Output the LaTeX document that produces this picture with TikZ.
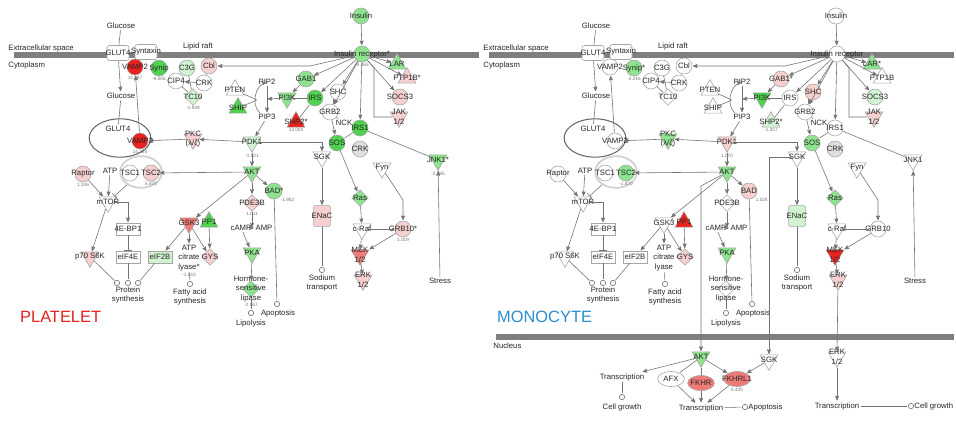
\documentclass[tikz,border=0pt]{standalone}
\usepackage{fontspec}
\setmainfont{Liberation Sans}
\usetikzlibrary{shapes.geometric,arrows,positioning}

\definecolor{upHi}{HTML}{E8231F}
\definecolor{upMid}{HTML}{EE7B78}
\definecolor{upLo}{HTML}{F6CFCF}
\definecolor{dnHi}{HTML}{4FD24F}
\definecolor{dnMid}{HTML}{8EE38E}
\definecolor{dnLo}{HTML}{D2F3D2}
\definecolor{barGray}{HTML}{7F7F7F}
\definecolor{plateRed}{HTML}{E4231E}
\definecolor{monoBlue}{HTML}{2B8FCF}

\tikzset{
  tone/.style={tone #1/.try},
  g/.style={label={[lab]center:#1}},
  lab/.style={font=\fontsize{6.6}{8}\selectfont,text=black!85,align=center,inner sep=0pt},
  val/.style={font=\fontsize{4}{4}\selectfont,text=black!55,inner sep=0.6pt},
  chem/.style={font=\fontsize{6.6}{8}\selectfont,text=black!85,align=center,inner sep=1pt},
  gene/.style={circle,draw=black!35,fill=white,inner sep=0pt,minimum size=0.48cm},
  kin/.style={regular polygon,regular polygon sides=3,shape border rotate=180,draw=black!35,fill=white,inner sep=0pt,minimum size=0.62cm},
  phos/.style={regular polygon,regular polygon sides=3,draw=black!35,fill=white,inner sep=0pt,minimum size=0.62cm},
  enz/.style={diamond,draw=black!35,fill=white,inner sep=0pt,minimum size=0.5cm},
  trl/.style={rectangle,draw=black!35,fill=white,inner sep=0pt,minimum width=0.72cm,minimum height=0.36cm},
  chan/.style={rectangle,rounded corners=1pt,draw=black!35,fill=white,inner sep=0pt,minimum width=0.5cm,minimum height=0.62cm},
  trf/.style={ellipse,draw=black!35,fill=white,inner sep=0pt,minimum width=0.8cm,minimum height=0.45cm},
  tport/.style={rectangle,rounded corners=2pt,draw=black!35,fill=white,inner sep=0pt,minimum width=0.66cm,minimum height=0.45cm},
  leaf/.style={circle,draw=black!55,fill=white,inner sep=0pt,minimum size=0.16cm},
  mem/.style={line width=0.17cm,draw=barGray},
}

%% one panel of the insulin pathway
\newcommand{\panelbody}{%
  \draw[mem] (14,55) -- (480,55);
  \node[chem,anchor=west] (ecs) at (7,48) {Extracellular space};
  \node[chem,anchor=west] (cyto) at (7,65) {Cytoplasm};
  \node[chem] (raft) at (198,47) {Lipid raft};
  %% glucose uptake
  \node[chem] (glcout) at (121,26) {Glucose};
  \node[tport,g=GLUT4] (glut4m) at (118,53) {};
  \node[tport,g=Syntaxin] (stx) at (146,52) {};
  \node[gene,tone=vampa,g=VAMP2] (vampa) at (135,67) {};
  \node[gene,tone=synip,g=Synip\stSyn] (synip) at (159,68) {};
  \node[chem] (glcin) at (121,96) {Glucose};
  \node[ellipse,draw=black!60,line width=0.9pt,minimum width=1.85cm,minimum height=1.15cm] (gloop) at (120,138) {};
  \node[chem] (glut4) at (118,129) {GLUT4};
  \node[gene,tone=vampb,g=VAMP2] (vampb) at (140,141) {};
  \node[gene,tone=c3g,g=C3G] (c3g) at (187,68) {};
  \node[gene,tone=cbl,g=Cbl] (cbl) at (209,66) {};
  \node[gene,g=CIP4] (cip4) at (176,81) {};
  \node[gene,g=CRK] (crka) at (204,83) {};
  \node[enz,tone=tc10,g=TC10] (tc10) at (193,97) {};
  \node[kin,tone=pkc,g={PKC\\(λ/ζ)}] (pkc) at (193,139) {};
  %% insulin receptor
  \node[gene,tone=ins,g=Insulin] (ins) at (361,16) {};
  \node[gene,tone=ir,g=Insulin receptor\stIR] (ir) at (362,54) {};
  \node[phos,tone=lar,g=LAR\stLAR] (lar) at (397,64) {};
  \node[phos,tone=ptp,g=PTP1B\stPTP] (ptp) at (407,78) {};
  \node[gene,tone=socs,g=SOCS3] (socs) at (400,97) {};
  \node[kin,tone=jak,g={JAK\\1/2}] (jak) at (399,117) {};
  \node[gene,tone=gab,g=GAB1\stGAB] (gab) at (306,79) {};
  \node[kin,tone=pi3k,g=PI3K] (pi3k) at (287,98) {};
  \node[gene,tone=irs,g=IRS] (irs) at (315,98) {};
  \node[gene,tone=shc,g=SHC] (shc) at (338,92) {};
  \node[gene,g=GRB2] (grb2) at (330,112) {};
  \node[chem] (nck) at (344,123) {NCK};
  \node[gene,tone=irsa,g=IRS1] (irsa) at (360,128) {};
  \node[phos,tone=shp,g=SHP2*] (shp) at (296,122) {};
  \node[phos,g=PTEN] (pten) at (235,90) {};
  \node[phos,tone=ship,g=SHIP] (ship) at (238,108) {};
  \node[chem] (pip2) at (267,82) {PIP2};
  \node[chem] (pip3) at (267,117) {PIP3};
  \coordinate (pj) at (257,100);
  \coordinate (pk) at (267,99);
  %% middle
  \node[kin,tone=pdk,g=PDK1] (pdk) at (252,142) {};
  \node[kin,g=SGK] (sgk) at (322,157) {};
  \node[gene,tone=sos,g=SOS] (sos) at (337,143) {};
  \node[gene,fill=black!12,g=CRK] (crkb) at (360,149) {};
  \node[kin,tone=jnk,g=JNK1\stJNK] (jnk) at (438,160) {};
  \node[kin,tone=akt,g=AKT] (akt) at (252,172) {};
  \node[gene,tone=bad,g=BAD\stBAD] (bad) at (274,191) {};
  \node[kin,g=Fyn] (fyn) at (382,168) {};
  \node[enz,tone=pde,g=PDE3B] (pde) at (252,203) {};
  \node[enz,tone=ras,g=Ras] (ras) at (360,198) {};
  \node[chan,tone=enac,g=ENaC] (enac) at (322,216) {};
  \node[chem] (camp) at (241,228) {cAMP};
  \node[chem] (amp) at (264,228) {AMP};
  \coordinate (cx) at (252,228);
  \node[kin,g=c-Raf] (craf) at (362,229) {};
  \node[gene,tone=grb,g=GRB10\stGRB] (grb) at (403,229) {};
  \node[kin,tone=pka,g=PKA] (pka) at (252,253) {};
  \node[kin,tone=mek,g={MEK\\1/2}] (mek) at (360,255) {};
  \node[kin,tone=erk,g={ERK\\1/2}] (erk) at (363,280) {};
  \node[enz,tone=hsl,g={Hormone-\\sensitive\\lipase}] (hsl) at (251,289) {};
  \node[leaf] (lipo) at (251,313) {};
  \node[chem] (lipot) at (251,323) {Lipolysis};
  \node[leaf] (apop) at (277,304) {};
  \node[chem] (apopt) at (278,313) {Apoptosis};
  \node[leaf] (sod) at (322,270) {};
  \node[chem] (sodt) at (322,283) {Sodium\\transport};
  \node[chem] (stress) at (440,281) {Stress};
  %% mTOR branch
  \node[gene,tone=rap,g=Raptor] (rap) at (83,174) {};
  \node[chem] (atp) at (110,171) {ATP};
  \node[ellipse,draw=black!18,line width=1.5pt,minimum width=1.25cm,minimum height=0.95cm,inner sep=0pt] (tsc) at (141,172) {};
  \node[gene,g=TSC1] (tsca) at (130,173) {};
  \node[gene,tone=tscb,g=TSC2] (tscb) at (151,173) {};
  \node[kin,g=mTOR] (mtor) at (108,202) {};
  \node[trl,g=4E-BP1] (ebp) at (128,229) {};
  \node[kin,tone=gsk,g=GSK3] (gsk) at (189,223) {};
  \node[phos,tone=pp1,g=PP1] (pp1) at (209,222) {};
  \node[kin,tone=p70,g=p70 S6K] (p70) at (90,257) {};
  \node[trl,g=eIF4E] (eife) at (128,257) {};
  \node[trl,tone=eifb,g=eIF2B] (eifb) at (160,257) {};
  \node[chem,tone=acl] (acl) at (189,258) {ATP\\citrate\\lyase\stACL};
  \node[enz,tone=gys,g=GYS] (gys) at (210,257) {};
  \node[leaf] (psa) at (117,283) {};
  \node[leaf] (psb) at (128,283) {};
  \node[leaf] (psc) at (138,283) {};
  \node[chem] (pst) at (128,295) {Protein\\synthesis};
  \node[leaf] (fas) at (190,284) {};
  \node[chem] (fast) at (190,297) {Fatty acid\\synthesis};
  %% connectors
  \draw (glcout) -- (glut4m);
  \draw[->] (glut4m) -- (glcin);
  \draw (glcin) -- (glut4);
  \draw[->] (vampb) -- (vampa);
  \draw[->] (ins) -- (ir);
  \draw[->] (ir) -- (310,66) -- (cbl);
  \draw (cbl) -- (crka);
  \draw[->] (crka) -- (cip4);
  \draw (c3g) -- (tc10);
  \draw (cip4) -- (tc10);
  \foreach \t in {gab,irs,shc,grb2,irsa,lar,ptp,socs} \draw[->] (ir) -- (\t);
  \draw (ir) -- (374,68) -- (374,117) -- (jak);
  \draw[->] (gab) -- (pi3k);
  \draw (irs) -- (pi3k);
  \draw (shp) -- (irs);
  \draw[->] (pi3k) -- (pk);
  \draw[->] (pip2) -- (pip3);
  \draw[->] (pip3) to[bend left=60] (pip2);
  \draw (pten) -- (pj);
  \draw (ship) -- (pj);
  \draw[->] (pip3) -- (pdk);
  \draw[->] (pdk) -- (akt);
  \draw[->] (pdk) -| (sgk);
  \draw[->] (pdk) -- (pkc);
  \draw[->] (pkc) -- (vampb);
  \draw[->] (shc) -- (grb2);
  \draw (grb2) -- (nck);
  \draw[->] (grb2) -- (sos);
  \draw (irsa) -- (sos);
  \draw (irsa) -- (jnk);
  \draw[->] (stress) -- (jnk);
  \draw[->] (sos) -- (ras);
  \draw[->] (ras) -- (craf);
  \draw (craf) -- (grb);
  \draw[->] (craf) -- (mek);
  \draw[->] (grb) -- (mek);
  \draw[->] (fyn) -- (403,200) -- (grb);
  \draw[->] (mek) -- (erk);
  \draw[->] (sgk) -- (enac);
  \draw (enac) -- (sod);
  \draw[->] (akt) -- (tscb);
  \draw[->] (akt) -- (bad);
  \draw[->] (akt) -- (pde);
  \draw[->] (akt) -- (gsk);
  \draw (bad) -- (apop);
  \draw[->] (pde) -- (cx);
  \draw[->] (camp) -- (amp);
  \draw[->] (camp) -- (pka);
  \draw[->] (pka) -- (hsl);
  \draw (hsl) -- (lipo);
  \draw[->] (gsk) -- (eifb);
  \draw[->] (gsk) -- (acl);
  \draw[->] (gsk) -- (gys);
  \draw[->] (pp1) -- (gys);
  \draw[->] (rap) -- (mtor);
  \draw[->] (atp) -- (mtor);
  \draw[-|] (tsc) -- (mtor);
  \draw[->] (mtor) -- (p70);
  \draw[->] (mtor) -| (ebp);
  \draw[-|] (ebp) -- (eife);
  \draw (p70) -- (psa);
  \draw (eife) -- (psb);
  \draw (eifb) -- (psc);
  \draw (acl) -- (fas);
}

\begin{document}
\begin{tikzpicture}[x=0.03cm,y=-0.03cm,>=stealth',shorten >=0.5pt,line width=0.5pt,color=black!55,font=\fontsize{6.6}{8}\selectfont]
\path[fill=white,use as bounding box] (0,0) rectangle (956,420);

%% Platelet
\begin{scope}[name prefix=L-,
  tone ins/.style={fill=dnMid},
  tone ir/.style={fill=dnMid,label={[val]below:-4.465}},
  tone vampa/.style={fill=upHi,label={[val]below:14.287}},
  tone synip/.style={fill=dnHi,label={[val]below:-9.005}},
  tone c3g/.style={fill=dnLo},
  tone cbl/.style={fill=upLo},
  tone tc10/.style={fill=dnLo,label={[val]below:-1.939}},
  tone vampb/.style={fill=upHi,label={[val]below:14.293}},
  tone pkc/.style={fill=upLo},
  tone lar/.style={fill=dnMid},
  tone ptp/.style={fill=upLo},
  tone socs/.style={fill=upLo},
  tone jak/.style={fill=upLo},
  tone gab/.style={fill=dnMid},
  tone pi3k/.style={fill=dnMid},
  tone irs/.style={fill=dnHi},
  tone irsa/.style={fill=dnHi},
  tone shp/.style={fill=upHi,label={[val]below:13.004}},
  tone ship/.style={fill=dnHi},
  tone pdk/.style={fill=dnLo,label={[val]below:-1.021}},
  tone sos/.style={fill=dnHi},
  tone jnk/.style={fill=dnMid,label={[val]below:-2.785}},
  tone akt/.style={fill=dnMid},
  tone bad/.style={fill=dnMid,label={[val]below right:-1.952}},
  tone pde/.style={fill=upLo,label={[val]below:1.011}},
  tone ras/.style={fill=dnMid},
  tone enac/.style={fill=upLo},
  tone grb/.style={fill=upLo,label={[val]below:1.019}},
  tone pka/.style={fill=dnMid},
  tone mek/.style={fill=upMid},
  tone erk/.style={fill=upLo},
  tone hsl/.style={fill=dnMid,label={[val,yshift=-3.5pt]below:-2.867}},
  tone rap/.style={fill=upLo,label={[val]below:1.346}},
  tone tscb/.style={fill=upLo,label={[val]below:5.870}},
  tone gsk/.style={fill=upMid},
  tone pp1/.style={fill=dnHi},
  tone p70/.style={fill=upLo},
  tone eifb/.style={fill=dnLo},
  tone acl/.style={label={[val]below:-1.643}},
  tone gys/.style={fill=upLo}]
\def\stIR{*}\def\stLAR{}\def\stPTP{*}\def\stGAB{}\def\stJNK{*}
\def\stBAD{*}\def\stGRB{*}\def\stSyn{}\def\stACL{*}
\panelbody
\node[anchor=west,text=plateRed,font=\fontsize{14}{14}\selectfont] (plt) at (16,317) {PLATELET};
\end{scope}

%% Monocyte
\begin{scope}[shift={(475,0)},name prefix=R-,
  tone synip/.style={fill=dnMid,label={[val]below:-2.216}},
  tone pkc/.style={fill=dnMid},
  tone lar/.style={fill=dnMid},
  tone socs/.style={fill=dnLo},
  tone jak/.style={fill=upLo},
  tone gab/.style={fill=upLo},
  tone pi3k/.style={fill=dnHi},
  tone shc/.style={fill=upLo},
  tone shp/.style={fill=dnLo,label={[val]below:-1.207}},
  tone pdk/.style={fill=upLo,label={[val]below:1.070}},
  tone sos/.style={fill=dnMid},
  tone akt/.style={fill=dnMid},
  tone bad/.style={fill=upLo,label={[val]below right:1.024}},
  tone ras/.style={fill=dnMid},
  tone enac/.style={fill=dnLo},
  tone pka/.style={fill=dnMid},
  tone mek/.style={fill=upHi},
  tone erk/.style={fill=upLo},
  tone tscb/.style={fill=dnMid,label={[val]below:-1.870}},
  tone pp1/.style={fill=upHi},
  tone gys/.style={fill=upLo}]
\def\stIR{}\def\stLAR{*}\def\stPTP{}\def\stGAB{*}\def\stJNK{}
\def\stBAD{}\def\stGRB{}\def\stSyn{*}\def\stACL{}
\panelbody
\node[anchor=west,text=monoBlue,font=\fontsize{14}{14}\selectfont] (mono) at (18,317) {MONOCYTE};
%% nucleus
\draw[mem] (21,337) -- (480,337);
\node[chem,anchor=west] (nuc) at (17,346) {Nucleus};
\node[kin,fill=dnMid,g=AKT] (nakt) at (226,357) {};
\node[chem] (tra) at (147,377) {Transcription};
\node[leaf] (cga) at (147,397) {};
\node[chem] (cgat) at (147,407) {Cell growth};
\node[trf,g=AFX] (afx) at (196,379) {};
\node[trf,fill=upMid,g=FKHR] (fkhr) at (226,383) {};
\node[trf,fill=upMid,g=FKHRL1,label={[val]below:5.430}] (fkl) at (262,379) {};
\node[chem] (trb) at (226,408) {Transcription};
\node[leaf] (apn) at (270,407) {};
\node[chem,anchor=west] (apnt) at (272,407) {Apoptosis};
\node[kin,g=SGK] (nsgk) at (294,360) {};
\node[kin,g={ERK\\1/2}] (nerk) at (362,357) {};
\node[chem] (trc) at (362,406) {Transcription};
\node[leaf] (cgb) at (436,406) {};
\node[chem,anchor=west] (cgbt) at (438,406) {Cell growth};
\draw[->] (akt) -- (226,186) -- (nakt);
\draw[->] (sgk) -| (nsgk);
\draw[->] (erk) -- (nerk);
\draw[->] (nerk) -- (trc);
\draw (trc) -- (cgb);
\draw[->] (nakt) -- (tra);
\draw (tra) -- (cga);
\draw (nakt) -- (afx);
\draw (nakt) -- (fkhr);
\draw[->] (nakt) -- (fkl);
\draw[->] (nsgk) -- (fkl);
\draw[->] (afx) -- (trb);
\draw[->] (fkhr) -- (trb);
\draw[->] (fkl) -- (trb);
\draw (trb) -- (apn);
\end{scope}
\end{tikzpicture}
\end{document}
